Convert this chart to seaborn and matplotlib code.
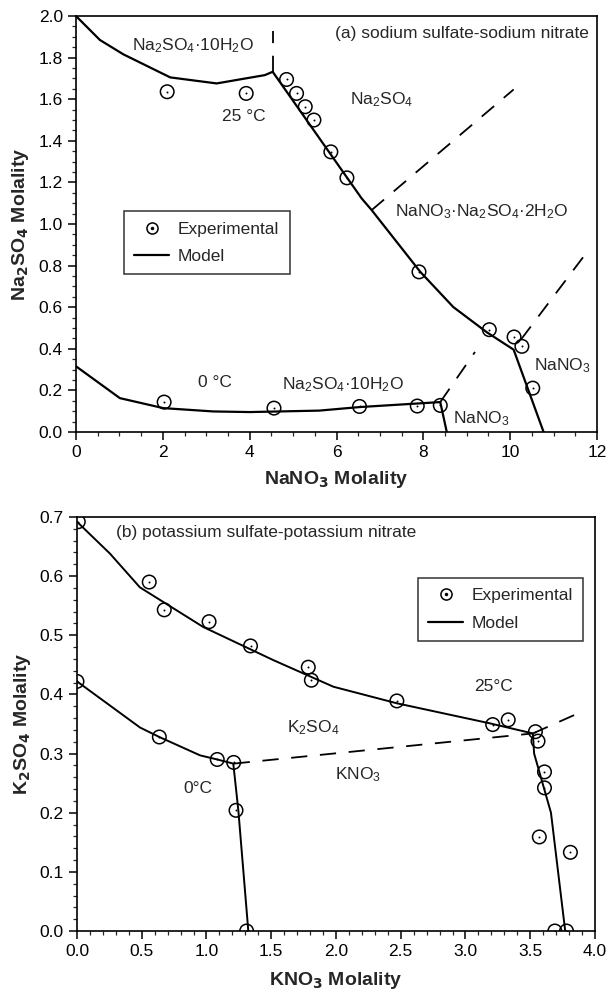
import numpy as np
import pandas as pd
import matplotlib.pyplot as plt
import seaborn as sns
from matplotlib.lines import Line2D
from matplotlib.ticker import MultipleLocator
from matplotlib.legend_handler import HandlerTuple

# --- Data: (a) sodium sulfate - sodium nitrate ---
na_model25_x = [0, 0.55, 1.09, 2.17, 3.24, 4.35, 4.53, 5.60, 6.58, 6.81, 7.93, 8.69, 9.46, 10.08, 10.77]
na_model25_y = [2.0, 1.885, 1.816, 1.705, 1.676, 1.716, 1.732, 1.414, 1.123, 1.067, 0.77, 0.601, 0.48, 0.396, 0.0]
na_model0_x = [0, 1.01, 2.01, 3.16, 4.0, 5.6, 6.53, 8.39, 8.54]
na_model0_y = [0.316, 0.163, 0.115, 0.099, 0.096, 0.103, 0.120, 0.144, 0.0]
na_exp25_x = [2.10, 3.92, 4.85, 5.08, 5.28, 5.48, 5.87, 6.24, 7.90, 9.52, 10.09, 10.27, 10.52]
na_exp25_y = [1.636, 1.628, 1.695, 1.628, 1.564, 1.50, 1.347, 1.222, 0.77, 0.492, 0.457, 0.412, 0.211]
na_exp0_x = [2.03, 4.56, 6.53, 7.86, 8.39]
na_exp0_y = [0.144, 0.115, 0.123, 0.125, 0.128]
# phase boundaries (dashed)
na_bounds = [
    ([4.53, 4.53], [1.732, 1.93]),
    ([6.81, 10.08], [1.067, 1.647]),
    ([10.25, 11.75], [0.445, 0.86]),
    ([8.39, 9.19], [0.144, 0.385]),
]

# --- Data: (b) potassium sulfate - potassium nitrate ---
k_model25_x = [0.0, 0.255, 0.486, 0.975, 1.516, 1.98, 2.47, 3.19, 3.52, 3.53, 3.66, 3.77]
k_model25_y = [0.692, 0.638, 0.581, 0.514, 0.458, 0.413, 0.385, 0.351, 0.334, 0.300, 0.200, 0.0]
k_model0_x = [0.0, 0.487, 0.636, 0.95, 1.083, 1.207, 1.246, 1.323]
k_model0_y = [0.422, 0.344, 0.328, 0.297, 0.290, 0.283, 0.204, 0.0]
k_exp25_x = [0.01, 0.558, 0.674, 1.02, 1.34, 1.786, 1.81, 2.47, 3.21, 3.33, 3.54, 3.56, 3.61, 3.61, 3.57, 3.81, 3.69, 3.78]
k_exp25_y = [0.692, 0.590, 0.543, 0.523, 0.482, 0.446, 0.424, 0.389, 0.349, 0.357, 0.337, 0.321, 0.269, 0.242, 0.159, 0.133, 0.0, 0.0]
k_exp0_x = [0.0, 0.636, 1.083, 1.21, 1.228, 1.31]
k_exp0_y = [0.422, 0.328, 0.290, 0.285, 0.204, 0.0]
k_bounds = [
    ([1.21, 3.52], [0.283, 0.334]),
    ([3.52, 3.87], [0.334, 0.368]),
]

# --- Style ---
sns.set_style('ticks')
plt.rcParams['font.family'] = ['Liberation Sans', 'DejaVu Sans']
plt.rcParams['mathtext.default'] = 'regular'
plt.rcParams['axes.linewidth'] = 1.2

fig = plt.figure(figsize=(6.09, 9.9), dpi=100)
ax1 = fig.add_axes([0.1248, 0.5636, 0.8555, 0.4202])
ax2 = fig.add_axes([0.1264, 0.0596, 0.8506, 0.4182])


def draw_exp(ax, x, y, s):
    sns.scatterplot(x=x, y=y, ax=ax, marker='o', s=s, facecolor='none',
                    edgecolor='black', linewidth=1.1, zorder=3)
    sns.scatterplot(x=x, y=y, ax=ax, marker='o', s=2, color='black',
                    linewidth=0, zorder=4)


def style_axis(ax, xmaj, xmin, ymaj, ymin):
    ax.xaxis.set_major_locator(MultipleLocator(xmaj))
    ax.xaxis.set_minor_locator(MultipleLocator(xmin))
    ax.yaxis.set_major_locator(MultipleLocator(ymaj))
    ax.yaxis.set_minor_locator(MultipleLocator(ymin))
    ax.tick_params(which='major', direction='out', length=6, width=1.1,
                   labelsize=12.5, colors='black')
    ax.tick_params(which='minor', direction='out', length=3, width=0.9)
    for sp in ax.spines.values():
        sp.set_visible(True)
        sp.set_color('black')


# --- Panel (a) ---
sns.lineplot(x=na_model25_x, y=na_model25_y, ax=ax1, sort=False, estimator=None, color='black', lw=1.6)
sns.lineplot(x=na_model0_x, y=na_model0_y, ax=ax1, sort=False, estimator=None, color='black', lw=1.6)
for bx, by in na_bounds:
    sns.lineplot(x=bx, y=by, ax=ax1, sort=False, estimator=None, color='black', lw=1.3,
                 linestyle=(0, (9, 7)))
draw_exp(ax1, na_exp25_x, na_exp25_y, 95)
draw_exp(ax1, na_exp0_x, na_exp0_y, 95)

ax1.set_xlim(0, 12)
ax1.set_ylim(0, 2.0)
style_axis(ax1, 2, 0.5, 0.2, 0.05)
ax1.yaxis.set_major_formatter(plt.FormatStrFormatter('%.1f'))
ax1.set_xlabel(r'NaNO$_\mathbf{3}$ Molality', fontsize=14, fontweight='bold')
ax1.set_ylabel(r'Na$_\mathbf{2}$SO$_\mathbf{4}$ Molality', fontsize=14, fontweight='bold')
ax1.xaxis.set_label_coords(0.5, -0.09)
ax1.yaxis.set_label_coords(-0.087, 0.5)

fs = 12.5
ax1.text(0.985, 0.957, '(a) sodium sulfate-sodium nitrate', transform=ax1.transAxes,
         ha='right', va='center', fontsize=fs)
ax1.text(1.28, 1.86, 'Na$_2$SO$_4$·10H$_2$O', fontsize=fs, va='center')
ax1.text(3.36, 1.515, '25 °C', fontsize=fs, va='center')
ax1.text(6.31, 1.60, 'Na$_2$SO$_4$', fontsize=fs, va='center')
ax1.text(7.35, 1.058, 'NaNO$_3$·Na$_2$SO$_4$·2H$_2$O', fontsize=fs, va='center')
ax1.text(2.81, 0.236, '0 °C', fontsize=fs, va='center')
ax1.text(4.74, 0.23, 'Na$_2$SO$_4$·10H$_2$O', fontsize=fs, va='center')
ax1.text(8.68, 0.064, 'NaNO$_3$', fontsize=fs, va='center')
ax1.text(10.54, 0.32, 'NaNO$_3$', fontsize=fs, va='center')

circ = Line2D([], [], marker='o', ms=8, mfc='none', mec='black', mew=1.1, ls='none')
dot = Line2D([], [], marker='o', ms=1.5, color='black', ls='none')
mline = Line2D([], [], color='black', lw=1.6)
for ax, anchor in [(ax1, (0.092, 0.531)), (ax2, (0.658, 0.853))]:
    leg = ax.legend([(circ, dot), mline], ['Experimental', 'Model'],
                    handler_map={tuple: HandlerTuple(ndivide=1)},
                    loc='upper left', bbox_to_anchor=anchor, fontsize=fs,
                    frameon=True, fancybox=False, edgecolor='black',
                    borderaxespad=0, handlelength=2.0, handletextpad=0.5,
                    borderpad=0.6, labelspacing=0.7)
    leg.get_frame().set_linewidth(1.1)

# --- Panel (b) ---
sns.lineplot(x=k_model25_x, y=k_model25_y, ax=ax2, sort=False, estimator=None, color='black', lw=1.4)
sns.lineplot(x=k_model0_x, y=k_model0_y, ax=ax2, sort=False, estimator=None, color='black', lw=1.4)
for bx, by in k_bounds:
    sns.lineplot(x=bx, y=by, ax=ax2, sort=False, estimator=None, color='black', lw=1.3,
                 linestyle=(0, (9, 7)))
draw_exp(ax2, k_exp25_x, k_exp25_y, 95)
draw_exp(ax2, k_exp0_x, k_exp0_y, 95)

ax2.set_xlim(0, 4.0)
ax2.set_ylim(0, 0.7)
style_axis(ax2, 0.5, 0.1, 0.1, 0.02)
ax2.xaxis.set_major_formatter(plt.FormatStrFormatter('%.1f'))
ax2.yaxis.set_major_formatter(plt.FormatStrFormatter('%.1f'))
ax2.set_xlabel(r'KNO$_\mathbf{3}$ Molality', fontsize=14, fontweight='bold')
ax2.set_ylabel(r'K$_\mathbf{2}$SO$_\mathbf{4}$ Molality', fontsize=14, fontweight='bold')
ax2.xaxis.set_label_coords(0.5, -0.094)
ax2.yaxis.set_label_coords(-0.085, 0.5)

ax2.text(0.076, 0.963, '(b) potassium sulfate-potassium nitrate', transform=ax2.transAxes,
         ha='left', va='center', fontsize=fs)
ax2.text(3.07, 0.413, '25°C', fontsize=fs, va='center')
ax2.text(1.62, 0.343, 'K$_2$SO$_4$', fontsize=fs, va='center')
ax2.text(0.82, 0.241, '0°C', fontsize=fs, va='center')
ax2.text(1.99, 0.264, 'KNO$_3$', fontsize=fs, va='center')

fig.savefig('out.png', dpi=100)
